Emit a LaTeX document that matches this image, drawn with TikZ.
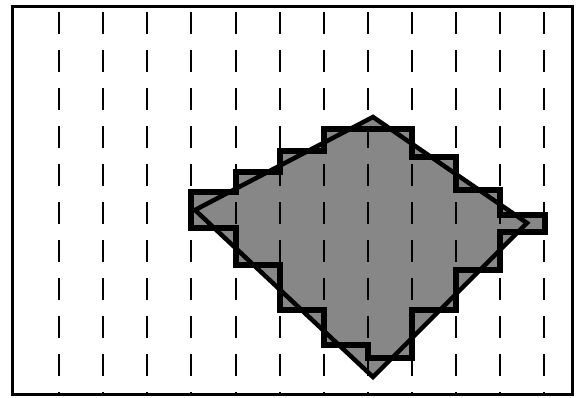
\documentclass[tikz,border=0pt]{standalone}
\begin{document}
\begin{tikzpicture}[x=1pt,y=-1pt,
  frame/.style={line width=3pt},
  gridline/.style={line width=2pt, dash pattern=on 22pt off 16pt},
  outline/.style={line width=5.5pt, line join=miter, line cap=rect},
  diag/.style={line width=4.5pt, line join=miter},
  shade/.style={fill=black!47}]
\useasboundingbox (0,0) rectangle (576,398);
% diamond vertices
\coordinate (L) at (195,210);
\coordinate (T) at (373,117);
\coordinate (R) at (527,223);
\coordinate (B) at (373,377);
% staircase path
\def\stairs{(191,192) -- (236,192) -- (236,172) -- (280,172) -- (280,151) -- (324,151) -- (324,129) -- (412,129) -- (412,157) -- (456,157) -- (456,190) -- (500,190) -- (500,215) -- (545,215) -- (545,232) -- (500,232) -- (500,270) -- (456,270) -- (456,310) -- (412,310) -- (412,358) -- (368,358) -- (368,345) -- (324,345) -- (324,310) -- (280,310) -- (280,265) -- (236,265) -- (236,228) -- (191,228) -- cycle}
\fill[shade] \stairs;
\fill[shade] (L) -- (T) -- (R) -- (B) -- cycle;
\foreach \x in {59,103,147,191,236,280,324,368,412,456,500,544}
  \draw[gridline] (\x,12) -- (\x,393);
\draw[outline] \stairs;
\draw[diag] (L) -- (T) -- (R) -- (B) -- cycle;
\draw[frame] (12,7) rectangle (572,394);
\end{tikzpicture}
\end{document}
